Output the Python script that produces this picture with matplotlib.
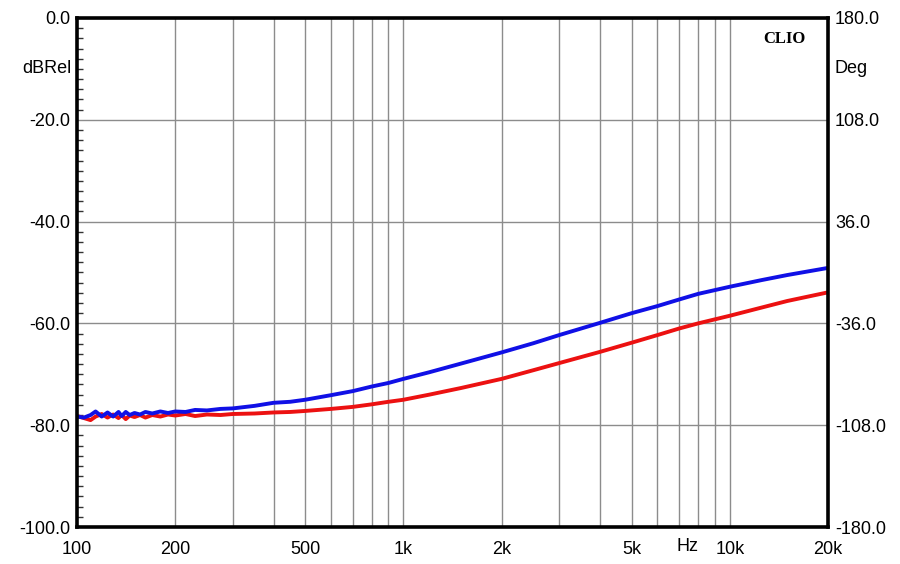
import matplotlib
matplotlib.use("Agg")
import matplotlib.pyplot as plt
from matplotlib.ticker import FixedLocator, NullFormatter, MultipleLocator

plt.rcParams["font.family"] = ["Liberation Sans", "DejaVu Sans"]

freq = [100, 105, 110, 114, 119, 124, 129, 134, 137, 141, 145, 150, 156, 162,
        170, 180, 190, 200, 215, 230, 250, 275, 300, 350, 400, 450, 500, 600,
        700, 800, 900, 1000, 1200, 1500, 2000, 2500, 3000, 4000, 5000, 6000,
        7000, 8000, 10000, 12500, 15000, 20000]

blue_db = [-78.3, -78.5, -78.0, -77.3, -78.3, -77.5, -78.3, -77.4, -78.2, -77.4,
           -78.0, -77.6, -77.9, -77.4, -77.7, -77.3, -77.6, -77.3, -77.4, -77.0,
           -77.1, -76.8, -76.7, -76.2, -75.6, -75.4, -75.0, -74.1, -73.3, -72.4,
           -71.7, -70.9, -69.6, -67.9, -65.7, -63.9, -62.3, -59.9, -58.0, -56.6,
           -55.3, -54.2, -52.8, -51.5, -50.5, -49.1]

red_db = [-78.2, -78.6, -79.0, -78.3, -77.8, -78.5, -77.9, -78.6, -78.0, -78.8,
          -78.1, -78.4, -78.0, -78.5, -78.0, -78.3, -77.9, -78.1, -77.8, -78.2,
          -77.9, -78.0, -77.8, -77.7, -77.5, -77.4, -77.2, -76.8, -76.4, -75.9,
          -75.4, -75.0, -74.0, -72.7, -70.9, -69.2, -67.8, -65.6, -63.8, -62.3,
          -61.0, -60.0, -58.5, -56.9, -55.6, -53.9]

x_ticks = [100, 200, 500, 1000, 2000, 5000, 10000, 20000]
x_labels = ["100", "200", "500", "1k", "2k", "5k", "10k", "20k"]
x_grid = [200, 300, 400, 500, 600, 700, 800, 900, 1000, 2000, 3000, 4000,
          5000, 6000, 7000, 8000, 9000, 10000]
db_ticks = [0, -20, -40, -60, -80, -100]
deg_ticks = [180, 108, 36, -36, -108, -180]

fig = plt.figure(figsize=(9, 5.64), dpi=100)
ax = fig.add_axes([0.0856, 0.0656, 0.8344, 0.9025])

ax.set_xscale("log")
ax.set_xlim(100, 20000)
ax.set_ylim(-100, 0)

for f in x_grid:
    ax.axvline(f, color="#8c8c8c", lw=1.0, zorder=1)
for d in db_ticks:
    ax.axhline(d, color="#8c8c8c", lw=1.0, zorder=1)

ax.plot(freq, red_db, color="#ec1111", lw=2.8, zorder=3)
ax.plot(freq, blue_db, color="#1010e6", lw=2.8, zorder=4)

ax.xaxis.set_major_locator(FixedLocator(x_ticks))
ax.set_xticklabels(x_labels)
ax.xaxis.set_minor_locator(FixedLocator([]))
ax.xaxis.set_minor_formatter(NullFormatter())
ax.tick_params(axis="x", which="major", length=0, pad=10, labelsize=13)

ax.set_yticks(db_ticks)
ax.set_yticklabels([f"{d:.1f}" for d in db_ticks])
ax.yaxis.set_minor_locator(MultipleLocator(2))
ax.tick_params(axis="y", which="major", length=0, pad=5, labelsize=13)
ax.tick_params(axis="y", which="minor", direction="in", length=4, width=1,
               left=True, right=True, color="#333333")

for s in ax.spines.values():
    s.set_linewidth(2.6)
    s.set_zorder(5)

ax2 = ax.twinx()
ax2.set_ylim(-180, 180)
ax2.set_yticks(deg_ticks)
ax2.set_yticklabels([f"{d:.1f}" for d in deg_ticks])
ax2.tick_params(axis="y", length=0, pad=5, labelsize=13)
for s in ax2.spines.values():
    s.set_visible(False)

ax.text(-0.008, 0.9, "dBRel", transform=ax.transAxes, ha="right", va="center",
        fontsize=13)
ax.text(1.008, 0.9, "Deg", transform=ax.transAxes, ha="left", va="center",
        fontsize=13)
ax.text(7400, -0.0225, "Hz", transform=ax.get_xaxis_transform(), ha="center",
        va="top", fontsize=13)
ax.text(0.97, 0.975, "CLIO", transform=ax.transAxes, ha="right", va="top",
        fontsize=12, fontweight="bold", family=["Liberation Serif", "DejaVu Serif"])

fig.savefig("out.png", dpi=100)
